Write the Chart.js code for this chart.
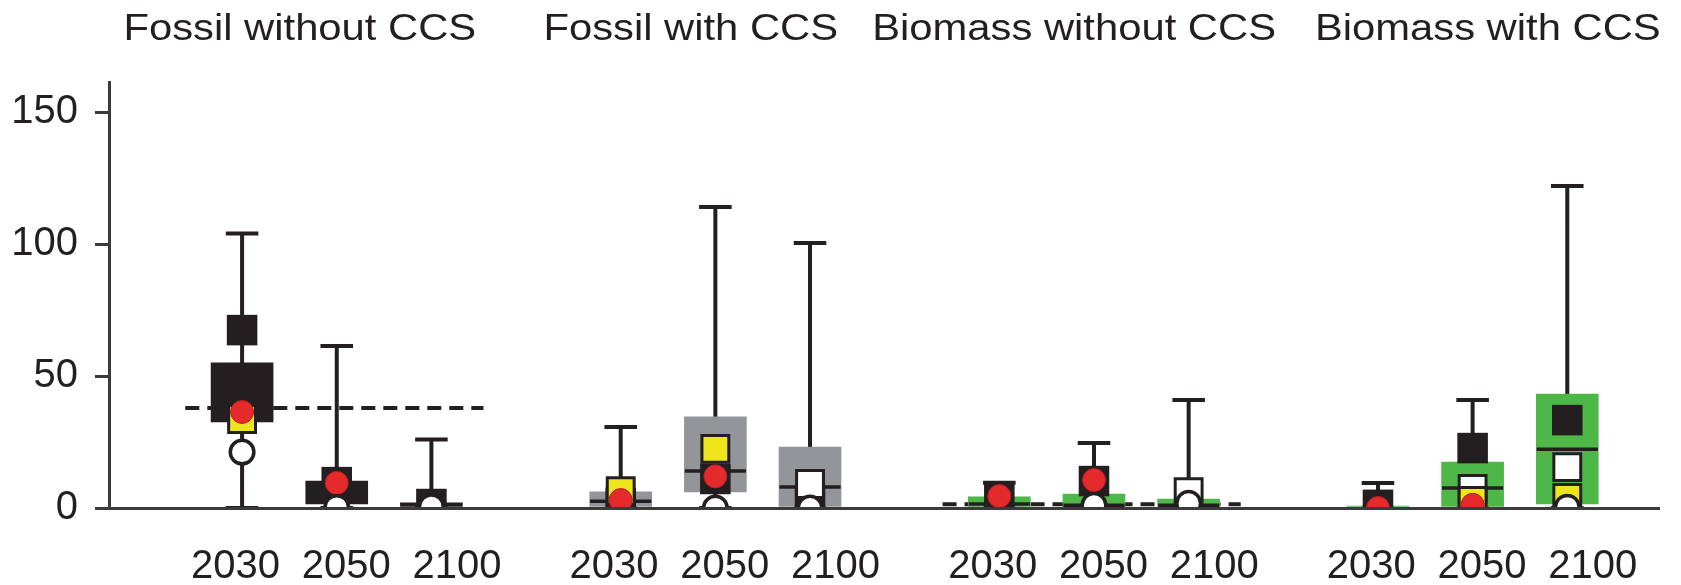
<!DOCTYPE html>
<html>
<head>
<meta charset="utf-8">
<script src="https://cdn.jsdelivr.net/npm/chart.js@4.4.1/dist/chart.umd.min.js"></script>
<style>
  html, body { margin: 0; padding: 0; background: #ffffff; }
  #wrap { width: 1681px; height: 585px; }
</style>
</head>
<body>
<div id="wrap"><canvas id="chart" width="1681" height="585"></canvas></div>
<script>
// ---- data -------------------------------------------------------------
const groups = ['Fossil without CCS', 'Fossil with CCS', 'Biomass without CCS', 'Biomass with CCS'];
const years = ['2030', '2050', '2100'];
const yTicks = [0, 50, 100, 150];

// one entry per (group, year), group by group
const rangeMin = [0, 0, 0, 0, 0, 0, 0, 0, 0, 0, 0, 0];
const rangeMax = [104, 61.4, 26, 30.7, 114, 100.4, 9.6, 24.6, 40.9, 9.5, 40.9, 122];
const boxLow   = [32.6, 1.5, 0, 0, 6.1, 0, 0, 0, 0, 0, 0, 1.5];
const boxHigh  = [55, 10.2, 2, 6.1, 34.5, 23.1, 4.2, 5.3, 3.4, 0.7, 17.4, 43.2];
const medians  = [null, null, null, 2.6, 14, 8, 1.5, 1.0, 1.0, null, 7.6, 22.3];

const blackSquares  = [67.4, 9.8, 1.5, 2, 11, 3, 3.8, 10.2, null, 1.2, 22.7, 33.3];
const whiteSquares  = [null, null, null, null, null, 9.1, null, null, 6, null, 7.2, 15.5];
const yellowSquares = [33.7, null, null, 6.4, 22.4, null, null, null, null, null, 2.7, 3.8];
const redCircles    = [36.4, 9.5, null, 3.0, 12, null, 4.5, 10.6, null, 0, 1.2, null];
const whiteCircles  = [21.2, 0.2, 0.5, null, 0, 0, null, 1.0, 1.8, null, null, 0.3];

// dashed reference level per group (null = none)
const referenceLevel = [37.9, null, 1.4, null];

// ---- styling ----------------------------------------------------------
const INK = '#231f20';
const AXIS = '#3b3b3b';
const FONT = '"Liberation Sans", Arial, Helvetica, sans-serif';
const boxColors = ['#231f20', '#939598', '#4db848', '#4db848'];

// x position of an entry: three years per group, one empty slot between groups
const slot = i => Math.floor(i / 3) * 4 + (i % 3);
const groupOf = i => Math.floor(i / 3);

const CAP_HALF = 0.172;
const BOX_HALF = 0.323;

function segs(list) {
  const out = [];
  list.forEach(([x0, y0, x1, y1]) => {
    out.push({x: x0, y: y0}, {x: x1, y: y1}, {x: x1, y: null});
  });
  return out;
}

const whiskerData = segs(rangeMax.flatMap((hi, i) => {
  const x = slot(i), lo = rangeMin[i];
  return [
    [x, lo, x, hi],
    [x - CAP_HALF, hi, x + CAP_HALF, hi],
    [x - CAP_HALF, lo, x + CAP_HALF, lo]
  ];
}));

const medianData = segs(medians
  .map((m, i) => m === null ? null : [slot(i) - BOX_HALF, m, slot(i) + BOX_HALF, m])
  .filter(Boolean));

const refData = segs(referenceLevel
  .map((v, g) => v === null ? null : [g * 4 - 0.6, v, g * 4 + 2.55, v])
  .filter(Boolean));

const boxData = boxHigh.map((h, i) => ({x: slot(i), y: [boxLow[i], h]}));

const pts = arr => arr.map((v, i) => v === null ? null : {x: slot(i), y: v}).filter(Boolean);

// tick positions for the year labels, spread a little wider than the boxes
const labelPositions = [];
groups.forEach((g, gi) => years.forEach((y, j) => labelPositions.push(gi * 4 + 1.1 + (j - 1) * 1.17)));
const titleCenters = [0.61, 4.74, 8.79, 13.16];

const groupTitles = {
  id: 'groupTitles',
  afterDraw(chart) {
    const {ctx, scales: {x}} = chart;
    ctx.save();
    ctx.fillStyle = INK;
    ctx.font = '36px ' + FONT;
    ctx.textAlign = 'center';
    ctx.textBaseline = 'alphabetic';
    groups.forEach((t, g) => {
      ctx.save();
      ctx.translate(x.getPixelForValue(titleCenters[g]), 40);
      ctx.scale(1.16, 1);
      ctx.fillText(t, 0, 0);
      ctx.restore();
    });
    ctx.restore();
  }
};

const lineBase = {type: 'line', pointRadius: 0, tension: 0, fill: false, spanGaps: false, borderCapStyle: 'butt', clip: 0};
const markerBase = {type: 'scatter', showLine: false, clip: 0};

new Chart(document.getElementById('chart'), {
  type: 'bar',
  data: {
    datasets: [
      Object.assign({}, lineBase, {label: 'reference', data: refData, borderColor: INK, borderWidth: 4, borderDash: [14, 8], order: 10}),
      Object.assign({}, lineBase, {label: 'range', data: whiskerData, borderColor: INK, borderWidth: 4, order: 9}),
      {type: 'bar', label: 'interquartile', data: boxData, barThickness: 62, borderWidth: 0, borderSkipped: false,
       backgroundColor: ctx => boxColors[groupOf(ctx.dataIndex)], order: 8},
      Object.assign({}, lineBase, {label: 'median', data: medianData, borderColor: INK, borderWidth: 3.5, order: 7}),
      Object.assign({}, markerBase, {label: 'black', data: pts(blackSquares), pointStyle: 'rect', pointRadius: 21.6,
       backgroundColor: INK, borderWidth: 0, order: 6}),
      Object.assign({}, markerBase, {label: 'white square', data: pts(whiteSquares), pointStyle: 'rect', pointRadius: 19,
       backgroundColor: '#ffffff', borderColor: INK, borderWidth: 3, order: 5}),
      Object.assign({}, markerBase, {label: 'yellow', data: pts(yellowSquares), pointStyle: 'rect', pointRadius: 19,
       backgroundColor: '#eee51c', borderColor: INK, borderWidth: 3, order: 4}),
      Object.assign({}, markerBase, {label: 'red', data: pts(redCircles), pointStyle: 'circle', pointRadius: 11.5,
       backgroundColor: '#e42a2a', borderColor: '#b52025', borderWidth: 1, order: 3}),
      Object.assign({}, markerBase, {label: 'white circle', data: pts(whiteCircles), pointStyle: 'circle', pointRadius: 11.8,
       backgroundColor: '#ffffff', borderColor: INK, borderWidth: 3.5, order: 2})
    ]
  },
  options: {
    responsive: false,
    animation: false,
    events: [],
    layout: {padding: {top: 82, right: 0, bottom: 0, left: 0}},
    plugins: {legend: {display: false}, tooltip: {enabled: false}, title: {display: false}},
    scales: {
      x: {
        type: 'linear', min: -1.406, max: 14.969, offset: false,
        afterBuildTicks: s => { s.ticks = labelPositions.map(v => ({value: v})); },
        afterFit: s => { s.height = 77; },
        grid: {display: false},
        border: {display: true, color: AXIS, width: 3, z: 1},
        ticks: {autoSkip: false, maxRotation: 0, minRotation: 0, padding: 27, color: INK,
                font: {family: FONT, size: 40}, callback: (v, i) => years[i % 3]}
      },
      y: {
        type: 'linear', min: 0, max: 161.4,
        afterBuildTicks: s => { s.ticks = yTicks.map(v => ({value: v})); },
        afterFit: s => { s.width = 109; },
        grid: {drawOnChartArea: false, drawTicks: true, tickLength: 14, lineWidth: 3, color: AXIS},
        border: {display: true, color: AXIS, width: 3, z: 1},
        ticks: {includeBounds: false, padding: 17, color: INK, font: {family: FONT, size: 40},
                callback: v => String(v)}
      }
    }
  },
  plugins: [groupTitles]
});
</script>
</body>
</html>
